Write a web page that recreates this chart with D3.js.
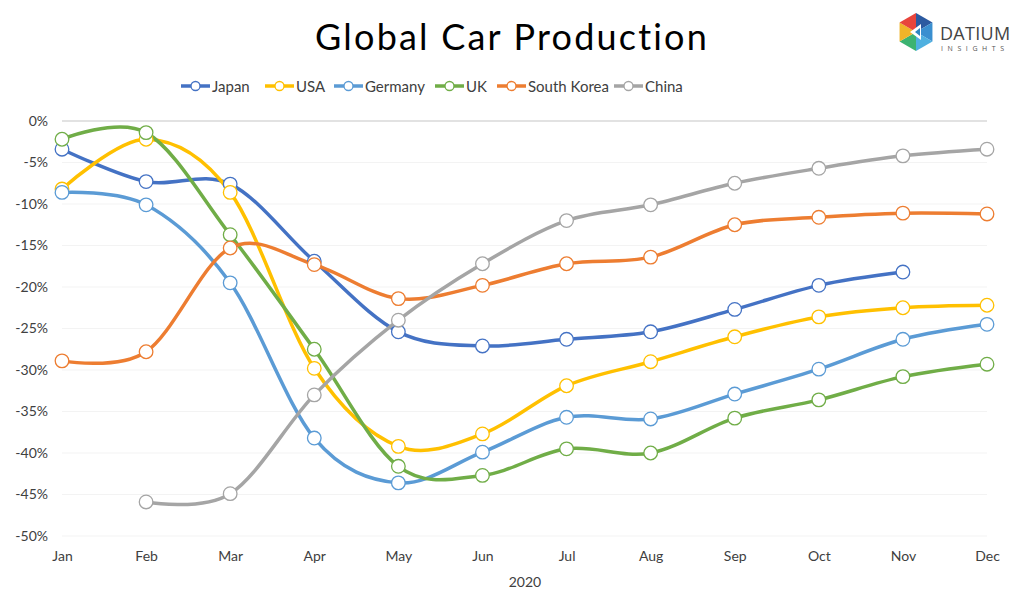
<!DOCTYPE html>
<html><head><meta charset="utf-8">
<script src="https://cdn.jsdelivr.net/npm/d3@7"></script>
<style>body{margin:0;background:#fff}svg{display:block}</style>
</head><body><svg id="c" width="1024" height="616"></svg>
<script>
const months = ["Jan","Feb","Mar","Apr","May","Jun","Jul","Aug","Sep","Oct","Nov","Dec"];
const seriesNames = ["Japan","USA","Germany","UK","South Korea","China"];
const seriesColors = ["#4472C4","#FFC000","#5B9BD5","#70AD47","#ED7D31","#A5A5A5"];
const japan = [-3.4,-7.3,-7.6,-16.9,-25.4,-27.1,-26.3,-25.4,-22.7,-19.8,-18.2,null];
const usa = [-8.2,-2.2,-8.6,-29.8,-39.2,-37.7,-31.9,-29.0,-26.0,-23.6,-22.5,-22.2];
const germany = [-8.6,-10.1,-19.5,-38.2,-43.6,-39.9,-35.7,-35.9,-32.9,-29.9,-26.3,-24.5];
const uk = [-2.2,-1.4,-13.7,-27.5,-41.6,-42.7,-39.5,-40.0,-35.8,-33.6,-30.8,-29.3];
const southKorea = [-28.9,-27.8,-15.3,-17.3,-21.4,-19.8,-17.2,-16.4,-12.5,-11.6,-11.1,-11.2];
const china = [null,-45.9,-44.9,-33.0,-24.0,-17.2,-12.0,-10.1,-7.5,-5.7,-4.2,-3.4];
const yTicks = [0,-5,-10,-15,-20,-25,-30,-35,-40,-45,-50];
const seriesValues = [japan,usa,germany,uk,southKorea,china];

const FONT = "'Century Gothic','URW Gothic','Lato','DejaVu Sans',sans-serif";
const svg = d3.select("#c");
const x = d3.scalePoint().domain(months).range([62,987]);
const y = d3.scaleLinear().domain([-50,0]).range([536,121]);

// gridlines
svg.append("g").selectAll("line").data(yTicks).join("line")
  .attr("x1",62).attr("x2",987).attr("y1",d=>y(d)).attr("y2",d=>y(d))
  .attr("stroke",d=>d===0?"#D9D9D9":"#F3F3F3").attr("stroke-width",d=>d===0?1.5:1);

// y axis
const ya = svg.append("g").attr("transform","translate(48,0)")
  .call(d3.axisLeft(y).tickValues(yTicks).tickSize(0).tickPadding(0).tickFormat(d=>d+"%"));
ya.select(".domain").remove();
ya.selectAll("text").attr("font-family",FONT).attr("font-size",14).attr("fill","#404040");

// x axis
const xa = svg.append("g").attr("transform","translate(0,551)")
  .call(d3.axisBottom(x).tickSize(0).tickPadding(0));
xa.select(".domain").remove();
xa.selectAll("text").attr("font-family",FONT).attr("font-size",14).attr("fill","#404040");

svg.append("text").attr("x",525).attr("y",587).attr("text-anchor","middle")
  .attr("font-family",FONT).attr("font-size",14).attr("fill","#404040").text("2020");

// title
svg.append("text").attr("x",512).attr("y",50).attr("text-anchor","middle")
  .attr("font-family",FONT).attr("font-size",36).attr("letter-spacing",2.2).attr("fill","#000").text("Global Car Production");

// lines
const line = d3.line().defined(d=>d.v!==null).x(d=>x(d.m)).y(d=>y(d.v)).curve(d3.curveCatmullRom.alpha(0));
seriesValues.forEach((vals,i)=>{
  const pts = vals.map((v,j)=>({m:months[j],v}));
  svg.append("path").datum(pts).attr("d",line).attr("fill","none")
    .attr("stroke",seriesColors[i]).attr("stroke-width",3.5).attr("stroke-linecap","round");
});
seriesValues.forEach((vals,i)=>{
  const pts = vals.map((v,j)=>({m:months[j],v})).filter(d=>d.v!==null);
  svg.append("g").selectAll("circle").data(pts).join("circle")
    .attr("cx",d=>x(d.m)).attr("cy",d=>y(d.v)).attr("r",6.8)
    .attr("fill","#fff").attr("stroke",seriesColors[i]).attr("stroke-width",1.3);
});

// legend
const legX = [181,265,334,435,497,614];
const lg = svg.append("g");
seriesNames.forEach((n,i)=>{
  const g = lg.append("g").attr("transform",`translate(${legX[i]},86)`);
  g.append("line").attr("x1",0).attr("x2",29).attr("stroke",seriesColors[i]).attr("stroke-width",3.5);
  g.append("circle").attr("cx",14.5).attr("r",4.5).attr("fill","#fff").attr("stroke",seriesColors[i]).attr("stroke-width",1.3);
  g.append("text").attr("x",31).attr("y",5.5).attr("font-family",FONT).attr("font-size",15).attr("fill","#404040").text(n);
});

// logo
const logo = svg.append("g").attr("transform","translate(916,32)");
const R = 19;
for(let k=0;k<6;k++){
  const a0 = -Math.PI/2 + k*Math.PI/3, a1 = a0 + Math.PI/3;
  logo.append("path").attr("d",`M0,0L${R*Math.cos(a0)},${R*Math.sin(a0)}L${R*Math.cos(a1)},${R*Math.sin(a1)}Z`)
    .attr("fill",["#2C5AA0","#3A8FD0","#4FB0E0","#3CB371","#F0B429","#E8453C"][k]);
}
logo.append("path").attr("d","M-6,0L5,-8L5,8Z").attr("fill","#fff");
logo.append("path").attr("d","M-1,0L4,-4L4,4Z").attr("fill","#2E86C1");
svg.append("text").attr("x",940).attr("y",40).attr("font-family","'Open Sans',sans-serif").attr("font-size",18)
  .attr("fill","#444").attr("letter-spacing",0.3).text("DATIUM");
svg.append("text").attr("x",941).attr("y",51).attr("font-family","'Open Sans',sans-serif").attr("font-size",7)
  .attr("fill","#555").attr("letter-spacing",4.6).text("INSIGHTS");
</script></body></html>
